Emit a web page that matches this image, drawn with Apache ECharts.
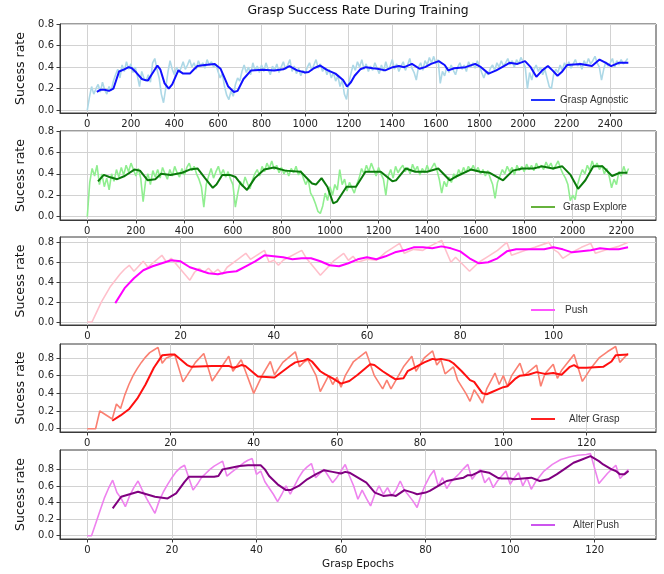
<!DOCTYPE html>
<html>
<head>
<meta charset="utf-8">
<script src="https://cdn.jsdelivr.net/npm/echarts@6/dist/echarts.min.js"></script>
<style>
  html, body { margin: 0; padding: 0; background: #fff; }
  #main { width: 664px; height: 574px; }
</style>
</head>
<body>
<div id="main"></div>
<script>
// raw success rate, one value every 10 epochs
var rawStep = 10;
var agnosticRaw = [
  0.00, 0.12, 0.22, 0.15, 0.20, 0.24, 0.17, 0.26, 0.19, 0.15,
  0.22, 0.18, 0.27, 0.33, 0.38, 0.30, 0.42, 0.36, 0.45, 0.38,
  0.43, 0.35, 0.40, 0.32, 0.22, 0.36, 0.30, 0.27, 0.33, 0.26,
  0.44, 0.48, 0.38, 0.30, 0.15, 0.07, 0.20, 0.35, 0.46, 0.38,
  0.33, 0.40, 0.35, 0.39, 0.45, 0.38, 0.42, 0.47, 0.40, 0.44,
  0.38, 0.46, 0.41, 0.44, 0.39, 0.47, 0.42, 0.45, 0.40, 0.43,
  0.36, 0.30, 0.34, 0.22, 0.14, 0.10, 0.18, 0.13, 0.24, 0.30,
  0.27, 0.36, 0.42, 0.35, 0.40, 0.33, 0.44, 0.37, 0.41, 0.35,
  0.42, 0.36, 0.44, 0.38, 0.33, 0.41, 0.37, 0.43, 0.35, 0.40,
  0.45, 0.38, 0.42, 0.47, 0.36, 0.41, 0.34, 0.39, 0.32, 0.37,
  0.34, 0.40, 0.44, 0.37, 0.42, 0.47, 0.39, 0.43, 0.36, 0.40,
  0.33, 0.38, 0.30, 0.35, 0.27, 0.32, 0.22, 0.28, 0.15, 0.10,
  0.25, 0.34, 0.42, 0.37, 0.45, 0.40, 0.47, 0.38, 0.43, 0.36,
  0.41, 0.37, 0.44, 0.39, 0.34, 0.42, 0.36, 0.45, 0.38, 0.41,
  0.47, 0.38, 0.43, 0.36, 0.41, 0.45, 0.37, 0.42, 0.48, 0.39,
  0.35, 0.28, 0.40, 0.44, 0.37, 0.46, 0.42, 0.49, 0.44, 0.50,
  0.43, 0.47, 0.25, 0.36, 0.32, 0.40, 0.35, 0.42, 0.37, 0.33,
  0.40, 0.44, 0.38, 0.42, 0.36, 0.45, 0.40, 0.44, 0.39, 0.46,
  0.41, 0.35, 0.30, 0.36, 0.33, 0.39, 0.42, 0.37, 0.44, 0.40,
  0.46, 0.41, 0.44, 0.48, 0.42, 0.46, 0.40, 0.47, 0.43, 0.49,
  0.45, 0.40, 0.20, 0.35, 0.28, 0.38, 0.42, 0.36, 0.40, 0.33,
  0.38, 0.30, 0.22, 0.20, 0.33, 0.38, 0.35, 0.42, 0.37, 0.44,
  0.40, 0.45, 0.39, 0.43, 0.47, 0.41, 0.44, 0.38, 0.46, 0.42,
  0.48, 0.43, 0.46, 0.50, 0.44, 0.40, 0.28, 0.38, 0.45, 0.41,
  0.44, 0.48, 0.40, 0.46, 0.42, 0.47, 0.43, 0.45, 0.48
];
var agnosticSmooth = [
  [44,0.17],[60,0.19],[80,0.19],[100,0.18],[120,0.2],[146,0.36],[170,0.38],[190,0.4],[205,0.39],
  [225,0.35],[251,0.29],[265,0.28],[278,0.275],[295,0.33],[322,0.415],[335,0.38],[355,0.25],
  [374,0.2],[390,0.24],[418,0.37],[440,0.34],[471,0.34],[490,0.38],[506,0.41],[540,0.42],
  [585,0.43],[612,0.385],[630,0.3],[647,0.22],[673,0.17],[690,0.18],[717,0.29],[752,0.37],
  [805,0.375],[858,0.37],[900,0.38],[928,0.41],[963,0.37],[1000,0.35],[1016,0.355],[1040,0.39],
  [1069,0.415],[1104,0.37],[1139,0.34],[1174,0.28],[1192,0.22],[1210,0.26],[1227,0.32],
  [1253,0.38],[1279,0.4],[1310,0.39],[1332,0.385],[1367,0.37],[1402,0.4],[1430,0.41],
  [1455,0.4],[1490,0.43],[1525,0.385],[1550,0.4],[1578,0.43],[1613,0.456],[1640,0.42],
  [1657,0.37],[1684,0.39],[1736,0.4],[1780,0.43],[1807,0.4],[1842,0.34],[1877,0.37],
  [1912,0.41],[1938,0.44],[1974,0.43],[2009,0.456],[2035,0.4],[2061,0.31],[2088,0.37],
  [2114,0.41],[2135,0.37],[2158,0.32],[2180,0.36],[2202,0.42],[2264,0.43],[2316,0.41],
  [2351,0.47],[2380,0.44],[2404,0.41],[2439,0.44],[2483,0.44]
];

var exploreRaw = [
  0.00, 0.32, 0.45, 0.38, 0.48, 0.30, 0.40, 0.28, 0.36, 0.25,
  0.40, 0.33, 0.44, 0.37, 0.46, 0.39, 0.48, 0.42, 0.50, 0.44,
  0.38, 0.45, 0.36, 0.14, 0.33, 0.40, 0.30, 0.43, 0.37, 0.44,
  0.36, 0.46, 0.40, 0.35, 0.44, 0.38, 0.47, 0.41, 0.37, 0.45,
  0.39, 0.46, 0.50, 0.43, 0.47, 0.40, 0.35, 0.28, 0.09, 0.30,
  0.38, 0.45, 0.36, 0.42, 0.47, 0.39, 0.44, 0.37, 0.42, 0.35,
  0.30, 0.09, 0.22, 0.33, 0.28, 0.37, 0.31, 0.26, 0.34, 0.40,
  0.44, 0.38, 0.47, 0.42, 0.50, 0.45, 0.52, 0.44, 0.48, 0.41,
  0.46, 0.40, 0.44, 0.38, 0.45, 0.41, 0.47, 0.39, 0.43, 0.36,
  0.30, 0.35, 0.22, 0.18, 0.12, 0.05, 0.03, 0.10, 0.22, 0.15,
  0.28, 0.20, 0.30, 0.25, 0.44, 0.30, 0.35, 0.24, 0.32, 0.27,
  0.22, 0.30, 0.36, 0.45, 0.40, 0.48, 0.42, 0.50, 0.44, 0.38,
  0.46, 0.40, 0.35, 0.20, 0.38, 0.44, 0.36, 0.47, 0.41, 0.45,
  0.48, 0.42, 0.46, 0.40, 0.49, 0.43, 0.47, 0.39, 0.45, 0.41,
  0.48, 0.42, 0.46, 0.50, 0.44, 0.35, 0.22, 0.33, 0.28, 0.37,
  0.32, 0.40, 0.36, 0.44, 0.39, 0.46, 0.41, 0.47, 0.43, 0.48,
  0.42, 0.46, 0.40, 0.44, 0.38, 0.43, 0.36, 0.30, 0.17, 0.32,
  0.38, 0.44, 0.40, 0.47, 0.42, 0.46, 0.39, 0.48, 0.43, 0.47,
  0.42, 0.49, 0.44, 0.48, 0.43, 0.50, 0.45, 0.48, 0.44, 0.51,
  0.46, 0.50, 0.44, 0.48, 0.52, 0.45, 0.40, 0.36, 0.30, 0.15,
  0.20, 0.16, 0.30, 0.38, 0.44, 0.40, 0.48, 0.43, 0.52, 0.46,
  0.50, 0.44, 0.48, 0.40, 0.45, 0.38, 0.27, 0.35, 0.30, 0.42,
  0.38, 0.47, 0.40, 0.45
];
var exploreSmooth = [
  [44,0.33],[68,0.39],[91,0.37],[123,0.35],[154,0.38],[194,0.44],[217,0.43],[249,0.34],
  [280,0.35],[304,0.4],[343,0.39],[391,0.41],[422,0.44],[454,0.45],[485,0.36],[517,0.27],
  [532,0.3],[556,0.39],[587,0.39],[611,0.37],[635,0.3],[658,0.25],[690,0.36],[729,0.44],
  [769,0.46],[816,0.43],[879,0.42],[926,0.31],[942,0.3],[965,0.36],[989,0.28],[1013,0.125],
  [1028,0.14],[1068,0.28],[1107,0.28],[1146,0.42],[1209,0.42],[1257,0.33],[1272,0.34],
  [1312,0.45],[1351,0.42],[1400,0.42],[1446,0.45],[1493,0.34],[1524,0.38],[1580,0.44],
  [1619,0.42],[1658,0.41],[1713,0.34],[1753,0.43],[1792,0.45],[1839,0.45],[1871,0.47],
  [1918,0.45],[1957,0.47],[1991,0.39],[2022,0.26],[2052,0.34],[2085,0.47],[2123,0.47],
  [2162,0.38],[2194,0.41],[2225,0.41]
];

var pushRaw = [
  [0,0],[1,0],[2,0.1],[3,0.2],[4,0.28],[5,0.36],[6,0.42],[7,0.48],[8,0.53],[9,0.57],
  [10,0.51],[12,0.61],[13,0.55],[16,0.67],[17,0.6],[18,0.64],[22,0.42],[23,0.5],[24,0.54],
  [25,0.5],[26,0.54],[27,0.49],[28,0.53],[29,0.48],[30,0.55],[32,0.62],[34,0.69],[35,0.63],
  [38,0.72],[39,0.6],[40,0.62],[41,0.57],[42,0.62],[46,0.72],[47,0.64],[50,0.47],[53,0.62],
  [55,0.69],[56,0.62],[57,0.66],[58,0.6],[60,0.63],[62,0.62],[64,0.7],[67,0.79],[68,0.69],
  [70,0.73],[72,0.72],[73,0.75],[76,0.82],[78,0.6],[79,0.65],[82,0.51],[84,0.6],[86,0.66],
  [88,0.72],[90,0.8],[91,0.67],[94,0.72],[96,0.75],[99,0.8],[100,0.73],[101,0.7],[102,0.64],
  [104,0.7],[106,0.75],[108,0.79],[109,0.69],[111,0.72],[114,0.76],[116,0.8]
];
var pushSmooth = [
  [6,0.19],[8,0.34],[10,0.44],[12,0.52],[14,0.56],[16,0.59],[18,0.62],[20,0.61],[22,0.55],
  [24,0.52],[26,0.49],[28,0.48],[30,0.5],[32,0.51],[34,0.56],[36,0.61],[38,0.67],[40,0.66],
  [42,0.65],[44,0.63],[46,0.64],[48,0.64],[50,0.61],[52,0.57],[54,0.56],[56,0.59],[58,0.63],
  [60,0.65],[62,0.63],[64,0.66],[66,0.7],[68,0.72],[70,0.75],[72,0.75],[74,0.74],[76,0.76],
  [78,0.74],[80,0.71],[82,0.64],[84,0.59],[86,0.6],[88,0.64],[90,0.71],[92,0.73],[94,0.73],
  [96,0.73],[98,0.73],[100,0.75],[102,0.73],[104,0.7],[106,0.71],[108,0.72],[110,0.74],
  [112,0.73],[114,0.73],[116,0.75]
];

var alterGraspRaw = [
  [0,0],[2,0],[3,0.2],[6,0.11],[7,0.28],[8,0.23],[9,0.38],[10,0.5],[11,0.6],[12,0.68],
  [13,0.75],[14,0.81],[15,0.86],[16,0.89],[17,0.92],[18,0.74],[19,0.8],[21,0.84],[23,0.53],
  [26,0.75],[28,0.85],[30,0.54],[34,0.82],[35,0.65],[37,0.78],[40,0.4],[42,0.6],[44,0.76],
  [45,0.61],[47,0.75],[50,0.87],[51,0.7],[52,0.75],[53,0.78],[55,0.6],[56,0.42],[58,0.6],
  [59,0.5],[60,0.58],[61,0.47],[62,0.6],[64,0.76],[67,0.87],[69,0.6],[71,0.45],[72,0.55],
  [73,0.45],[76,0.7],[78,0.82],[79,0.65],[81,0.8],[83,0.88],[84,0.72],[85,0.78],[86,0.62],
  [88,0.7],[89,0.55],[91,0.4],[92,0.31],[93,0.44],[94,0.37],[95,0.29],[96,0.45],[98,0.63],
  [99,0.5],[100,0.6],[101,0.48],[102,0.6],[104,0.74],[105,0.6],[106,0.64],[108,0.72],
  [109,0.48],[110,0.62],[112,0.73],[113,0.57],[114,0.66],[117,0.84],[119,0.535],[121,0.68],
  [123,0.8],[125,0.87],[127,0.93],[128,0.75],[130,0.85]
];
var alterGraspSmooth = [
  [6,0.09],[8,0.15],[10,0.22],[12,0.34],[14,0.5],[16,0.69],[18,0.83],[20,0.84],[21,0.84],
  [22,0.8],[24,0.72],[25,0.7],[30,0.71],[34,0.71],[35,0.69],[36,0.7],[37,0.72],[38,0.71],
  [40,0.63],[41,0.59],[45,0.58],[47,0.65],[49,0.72],[50,0.75],[52,0.77],[53,0.79],[54,0.76],
  [56,0.65],[57,0.62],[59,0.57],[61,0.51],[63,0.54],[65,0.61],[67,0.69],[68,0.73],[69,0.72],
  [71,0.65],[73,0.59],[74,0.56],[76,0.57],[77,0.65],[79,0.7],[81,0.75],[83,0.79],[84,0.78],
  [85,0.79],[87,0.77],[88,0.74],[90,0.65],[92,0.55],[93,0.53],[95,0.4],[96,0.39],[97,0.41],
  [99,0.45],[100,0.47],[101,0.48],[103,0.57],[104,0.6],[106,0.61],[108,0.64],[110,0.62],
  [112,0.63],[114,0.61],[116,0.7],[117,0.72],[118,0.69],[120,0.69],[124,0.7],[126,0.76],
  [127,0.83],[130,0.84]
];

var alterPushRaw = [
  [0,0],[1,0],[2,0.15],[3,0.3],[4,0.45],[5,0.57],[6,0.67],[7,0.52],[8,0.45],[9,0.35],
  [10,0.48],[11,0.58],[12,0.66],[13,0.55],[14,0.45],[15,0.36],[16,0.27],[17,0.42],[18,0.53],
  [19,0.62],[20,0.7],[21,0.77],[22,0.82],[23,0.85],[24,0.7],[25,0.55],[26,0.62],[27,0.7],
  [28,0.75],[29,0.8],[30,0.84],[31,0.87],[32,0.9],[33,0.72],[34,0.76],[35,0.8],[36,0.84],
  [37,0.88],[38,0.91],[39,0.93],[40,0.74],[41,0.78],[42,0.65],[44,0.5],[45,0.41],[46,0.5],
  [47,0.6],[48,0.5],[49,0.6],[50,0.7],[51,0.78],[52,0.83],[53,0.87],[54,0.7],[55,0.75],
  [56,0.8],[57,0.72],[58,0.64],[59,0.7],[60,0.78],[61,0.86],[62,0.72],[63,0.6],[64,0.44],
  [65,0.55],[66,0.45],[67,0.36],[68,0.5],[69,0.6],[70,0.5],[71,0.58],[72,0.48],[73,0.55],
  [74,0.66],[75,0.55],[77,0.42],[78,0.34],[79,0.5],[80,0.62],[81,0.72],[82,0.79],[83,0.6],
  [84,0.7],[85,0.57],[86,0.65],[88,0.75],[89,0.81],[90,0.86],[91,0.68],[92,0.75],[93,0.8],
  [94,0.64],[95,0.7],[96,0.58],[97,0.66],[98,0.72],[99,0.78],[100,0.62],[101,0.7],[102,0.76],
  [103,0.6],[104,0.7],[105,0.56],[106,0.65],[108,0.78],[110,0.86],[112,0.92],[114,0.95],
  [116,0.97],[118,0.98],[119,0.99],[121,0.63],[123,0.75],[125,0.85],[126,0.69],[128,0.8]
];
var alterPushSmooth = [
  [6,0.33],[8,0.47],[10,0.5],[12,0.53],[14,0.5],[16,0.47],[19,0.45],[21,0.51],[23,0.65],
  [24,0.71],[26,0.71],[30,0.71],[31,0.72],[32,0.8],[34,0.82],[36,0.84],[38,0.85],[41,0.85],
  [42,0.8],[43,0.72],[45,0.62],[47,0.55],[48,0.55],[50,0.6],[52,0.68],[54,0.74],[56,0.79],
  [58,0.77],[60,0.75],[61,0.77],[62,0.76],[64,0.7],[66,0.64],[68,0.52],[70,0.48],[72,0.49],
  [73,0.48],[75,0.55],[77,0.52],[78,0.5],[80,0.52],[81,0.54],[83,0.6],[85,0.66],[87,0.68],
  [89,0.7],[90,0.73],[91,0.73],[93,0.78],[95,0.76],[97,0.7],[98,0.69],[100,0.69],[101,0.68],
  [103,0.69],[105,0.7],[107,0.66],[109,0.68],[111,0.74],[113,0.81],[115,0.88],[117,0.92],
  [119,0.96],[121,0.9],[122,0.86],[123,0.83],[124,0.8],[125,0.78],[126,0.74],[127,0.74],
  [128,0.78]
];

var yTicks = [0, 0.2, 0.4, 0.6, 0.8];
var xTicksBig = [0, 200, 400, 600, 800, 1000, 1200, 1400, 1600, 1800, 2000, 2200, 2400];
var xTicksExplore = [0, 200, 400, 600, 800, 1000, 1200, 1400, 1600, 1800, 2000, 2200];
var xTicksPush = [0, 20, 40, 60, 80, 100];
var xTicksAlter = [0, 20, 40, 60, 80, 100, 120];

function toPairs(arr, step) {
  return arr.map(function (v, i) { return [i * step, v]; });
}

var panels = [
  { name: 'Grasp Agnostic', raw: toPairs(agnosticRaw, rawStep), smooth: agnosticSmooth,
    rawColor: '#add8e6', color: '#1010ff', legendColor: '#2233ff',
    top: 24, height: 89, xMin: -125, xMax: 2610, yMin: -0.025, yMax: 0.8, xTicks: xTicksBig, legendY: 101, textPad: 0 },
  { name: 'Grasp Explore', raw: toPairs(exploreRaw, rawStep), smooth: exploreSmooth,
    rawColor: '#90ee90', color: '#0b7a0b', legendColor: '#66b23c',
    top: 131, height: 89, xMin: -112.5, xMax: 2343, yMin: -0.031, yMax: 0.8, xTicks: xTicksExplore, legendY: 208, textPad: 3 },
  { name: 'Push', raw: pushRaw, smooth: pushSmooth,
    rawColor: '#ffc0cb', color: '#ff00ff', legendColor: '#ff55ff',
    top: 237, height: 88, xMin: -5.86, xMax: 122, yMin: -0.03, yMax: 0.854, xTicks: xTicksPush, legendY: 311, textPad: 5 },
  { name: 'Alter Grasp', raw: alterGraspRaw, smooth: alterGraspSmooth,
    rawColor: '#fa8072', color: '#ff1010', legendColor: '#ff2020',
    top: 344, height: 88, xMin: -6.56, xMax: 136.7, yMin: -0.037, yMax: 0.958, xTicks: xTicksAlter, legendY: 420, textPad: 9 },
  { name: 'Alter Push', raw: alterPushRaw, smooth: alterPushSmooth,
    rawColor: '#ee82ee', color: '#800080', legendColor: '#cc55ee',
    top: 450, height: 89, xMin: -6.46, xMax: 134.5, yMin: -0.04, yMax: 1.034, xTicks: xTicksAlter, legendY: 526, textPad: 13 }
];

var font = 'DejaVu Sans';
var frameColor = '#3a3a3a';
var gridColor = '#d2d2d2';

var option = {
  animation: false,
  backgroundColor: '#fff',
  title: {
    text: 'Grasp Success Rate During Training',
    left: 358, top: 5, textAlign: 'center', padding: 0,
    textStyle: { fontFamily: font, fontSize: 12.4, fontWeight: 'normal', color: '#111' }
  },
  grid: [], xAxis: [], yAxis: [], series: [], legend: []
};

panels.forEach(function (p, i) {
  option.grid.push({
    left: 60, right: 8, top: p.top, height: p.height,
    show: true, borderColor: frameColor, borderWidth: 1, backgroundColor: 'transparent'
  });
  option.xAxis.push({
    type: 'value', gridIndex: i, min: p.xMin, max: p.xMax,
    name: i === 4 ? 'Grasp Epochs' : '', nameLocation: 'middle', nameGap: 20,
    nameTextStyle: { fontFamily: font, fontSize: 10.5, color: '#111' },
    axisLine: { show: true, onZero: false, lineStyle: { color: frameColor } },
    axisTick: { show: true, inside: false, length: 3.5, lineStyle: { color: frameColor }, customValues: p.xTicks },
    axisLabel: {
      customValues: p.xTicks, color: '#222', fontFamily: font, fontSize: 10, margin: 6,
      formatter: function (v) { return String(v); }
    },
    splitLine: { show: true, lineStyle: { color: gridColor, width: 1 } }
  });
  option.yAxis.push({
    type: 'value', gridIndex: i, min: p.yMin, max: p.yMax,
    name: 'Sucess rate', nameLocation: 'middle', nameGap: 24,
    nameTextStyle: { fontFamily: font, fontSize: 12.5, color: '#111' },
    axisLine: { show: true, onZero: false, lineStyle: { color: frameColor } },
    axisTick: { show: true, inside: false, length: 3.5, lineStyle: { color: frameColor }, customValues: yTicks },
    axisLabel: {
      customValues: yTicks, color: '#222', fontFamily: font, fontSize: 10, margin: 6,
      formatter: function (v) { return v.toFixed(1); }
    },
    splitLine: { show: true, lineStyle: { color: gridColor, width: 1 } }
  });
  option.series.push({
    name: p.name + ' raw', type: 'line', xAxisIndex: i, yAxisIndex: i,
    data: p.raw, showSymbol: false, symbol: 'none', z: 2,
    lineStyle: { color: p.rawColor, width: 1.6 }, itemStyle: { color: p.rawColor }
  });
  option.series.push({
    name: p.name, type: 'line', xAxisIndex: i, yAxisIndex: i,
    data: p.smooth, showSymbol: false, symbol: 'none', z: 3,
    lineStyle: { color: p.color, width: 2 }, itemStyle: { color: p.color }
  });
  option.legend.push({
    data: [p.name], left: 531, top: p.legendY - 6, padding: 0,
    icon: 'rect', itemWidth: 24, itemHeight: 2, selectedMode: false,
    itemStyle: { color: p.legendColor, borderWidth: 0 },
    textStyle: { fontFamily: 'Liberation Sans', fontSize: 10, color: '#333', padding: [0, 0, 0, p.textPad] }
  });
});

var myChart = echarts.init(document.getElementById('main'), null, { renderer: 'canvas' });
myChart.setOption(option);
</script>
</body>
</html>
